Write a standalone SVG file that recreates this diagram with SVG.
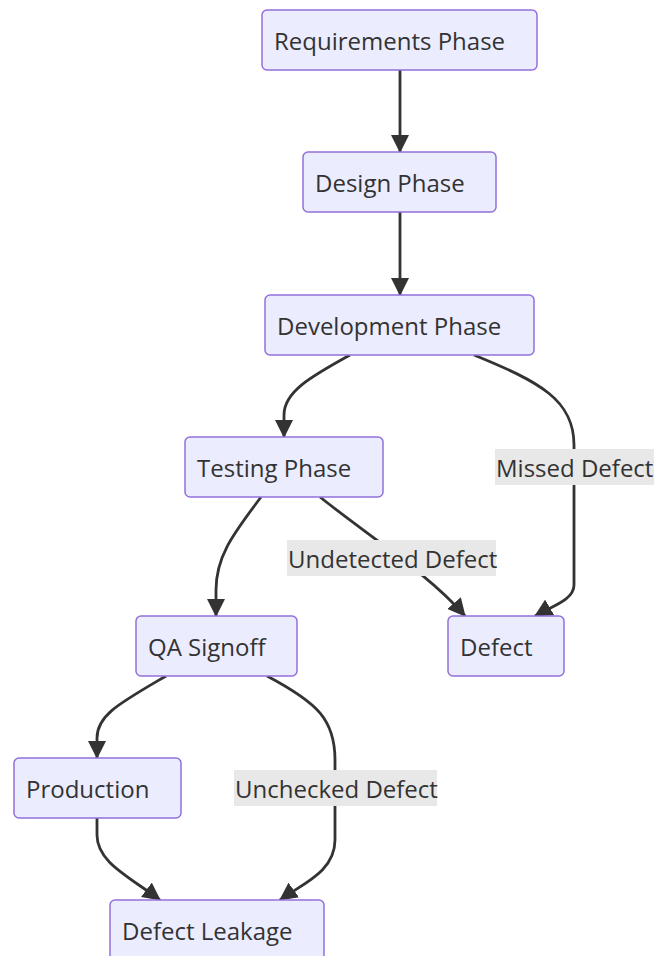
<svg xmlns="http://www.w3.org/2000/svg" width="654" height="956" viewBox="0 0 654 956">
<style>
.node rect{fill:#ECECFF;stroke:#9370DB;stroke-width:1.5}
text{font-family:"Open Sans","Liberation Sans",sans-serif;font-size:24px;fill:#333}
.edge{fill:none;stroke:#333;stroke-width:2.8}
.lbl{fill:#E8E8E8}
</style>
<defs>
<marker id="arr" markerUnits="userSpaceOnUse" viewBox="0 0 18 18" refX="17" refY="9" markerWidth="18" markerHeight="18" orient="auto">
<path d="M0,0 L18,9 L0,18 z" fill="#333"/>
</marker>
</defs>
<rect width="654" height="956" fill="#fff"/>
<g id="connectors">
<path class="edge" d="M400,70 L400,152" marker-end="url(#arr)"/>
<path class="edge" d="M400,212 L400,295" marker-end="url(#arr)"/>
<path class="edge" d="M350,355 C310,377 284,392 284,415 L284,437" marker-end="url(#arr)"/>
<path class="edge" d="M474,355 C540,382 574,400 574,445 L574,585 C574,600 552,606 535,616" marker-end="url(#arr)"/>
<path class="edge" d="M261,497 C235,532 216,555 216,590 L216,616" marker-end="url(#arr)"/>
<path class="edge" d="M320,497 C370,537 430,575 465,616" marker-end="url(#arr)"/>
<path class="edge" d="M166,676 C120,703 97,715 97,738 L97,758" marker-end="url(#arr)"/>
<path class="edge" d="M267,676 C318,703 335,720 335,760 L335,840 C335,872 302,884 280,900" marker-end="url(#arr)"/>
<path class="edge" d="M97,818 L97,835 C97,862 128,876 160,900" marker-end="url(#arr)"/>
<g id="label-missed"><rect class="lbl" x="495" y="449" width="159" height="36"/><text x="496" y="477">Missed Defect</text></g>
<g id="label-undetected"><rect class="lbl" x="287" y="540" width="209" height="36"/><text x="288" y="568">Undetected Defect</text></g>
<g id="label-unchecked"><rect class="lbl" x="234" y="770" width="203" height="36"/><text x="235" y="798">Unchecked Defect</text></g>
</g>
<g id="req" class="node"><rect x="262" y="10" width="275" height="60" rx="5"/><text x="274" y="50">Requirements Phase</text></g>
<g id="design" class="node"><rect x="303" y="152" width="193" height="60" rx="5"/><text x="315" y="192">Design Phase</text></g>
<g id="dev" class="node"><rect x="265" y="295" width="269" height="60" rx="5"/><text x="277" y="335">Development Phase</text></g>
<g id="testing" class="node"><rect x="185" y="437" width="198" height="60" rx="5"/><text x="197" y="477">Testing Phase</text></g>
<g id="defect" class="node"><rect x="448" y="616" width="116" height="60" rx="5"/><text x="460" y="656">Defect</text></g>
<g id="qa" class="node"><rect x="136" y="616" width="161" height="60" rx="5"/><text x="148" y="656">QA Signoff</text></g>
<g id="production" class="node"><rect x="14" y="758" width="167" height="60" rx="5"/><text x="26" y="798">Production</text></g>
<g id="leakage" class="node"><rect x="110" y="900" width="214" height="60" rx="5"/><text x="122" y="940">Defect Leakage</text></g>
</svg>
